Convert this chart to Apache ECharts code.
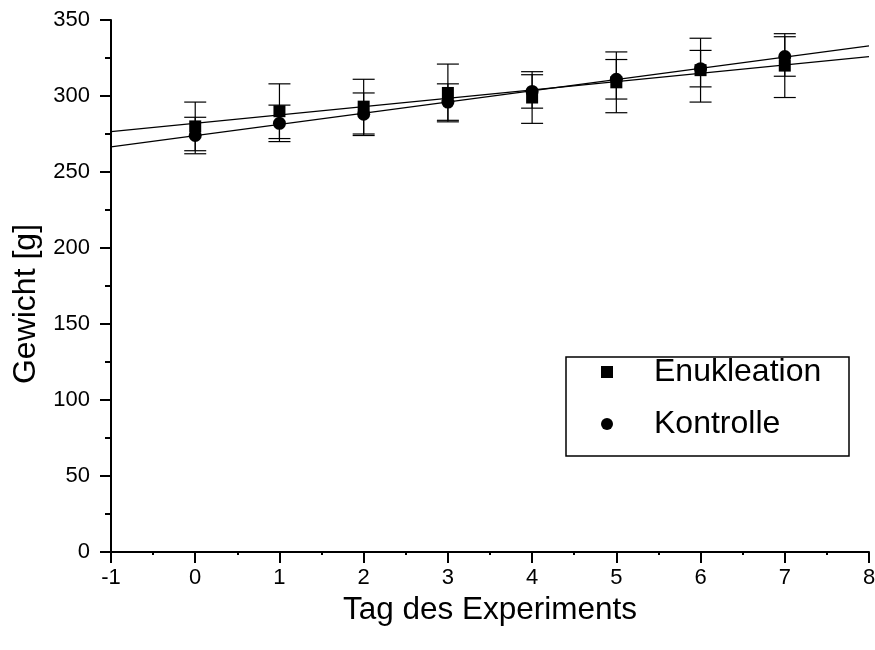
<!DOCTYPE html>
<html>
<head>
<meta charset="utf-8">
<title>Gewicht</title>
<script src="https://cdn.jsdelivr.net/npm/echarts@6/dist/echarts.min.js"></script>
<style>
  html, body { margin: 0; padding: 0; background: #fff; }
  #chart { width: 875px; height: 650px; }
</style>
</head>
<body>
<div id="chart"></div>
<script>
const days = [0, 1, 2, 3, 4, 5, 6, 7]
const enukleation = [280, 290, 293, 302, 299, 309, 317, 320]
const enukleationErr = [16, 18, 18, 19, 17, 20, 21, 21]
const kontrolle = [274, 282, 288, 296, 303, 311, 318, 326]
const kontrolleErr = [12, 12, 14, 12, 11, 13, 12, 13]
const fitRange = [-1, 8]

const font = '"Liberation Sans", Arial, sans-serif'

// lineare Regression
function linFit(xs, ys) {
  const n = xs.length
  const mx = xs.reduce((a, b) => a + b, 0) / n
  const my = ys.reduce((a, b) => a + b, 0) / n
  let sxy = 0, sxx = 0
  for (let i = 0; i < n; i++) {
    sxy += (xs[i] - mx) * (ys[i] - my)
    sxx += (xs[i] - mx) * (xs[i] - mx)
  }
  const b = sxy / sxx
  return fitRange.map(x => [x, my + b * (x - mx)])
}

function errData(vals, errs) {
  return days.map((d, i) => [d, vals[i] - errs[i], vals[i] + errs[i]])
}

function renderErr(params, api) {
  const x = api.value(0)
  const lo = api.coord([x, api.value(1)])
  const hi = api.coord([x, api.value(2)])
  const half = 11
  const style = { stroke: '#000', lineWidth: 1.2 }
  return {
    type: 'group',
    children: [
      { type: 'line', shape: { x1: lo[0], y1: lo[1], x2: hi[0], y2: hi[1] }, style },
      { type: 'line', shape: { x1: lo[0] - half, y1: lo[1], x2: lo[0] + half, y2: lo[1] }, style },
      { type: 'line', shape: { x1: hi[0] - half, y1: hi[1], x2: hi[0] + half, y2: hi[1] }, style }
    ]
  }
}

const chart = echarts.init(document.getElementById('chart'))

chart.setOption({
  animation: false,
  backgroundColor: '#fff',
  grid: { left: 111, right: 6, top: 20, bottom: 98, outerBoundsMode: 'none', containLabel: false },
  xAxis: {
    type: 'value',
    min: -1, max: 8, interval: 1,
    name: 'Tag des Experiments',
    nameLocation: 'middle',
    nameGap: 36,
    nameTextStyle: { fontFamily: font, fontSize: 31.5, color: '#000' },
    axisLine: { show: true, onZero: false, lineStyle: { color: '#000', width: 2 } },
    axisTick: { show: true, inside: false, length: 11, lineStyle: { color: '#000', width: 2 } },
    minorTick: { show: true, splitNumber: 2, length: 3, lineStyle: { color: '#000', width: 2 } },
    axisLabel: { margin: 15, fontFamily: font, fontSize: 22, color: '#000' },
    splitLine: { show: false }
  },
  yAxis: {
    type: 'value',
    min: 0, max: 350, interval: 50,
    name: 'Gewicht [g]',
    nameLocation: 'middle',
    nameGap: 69,
    nameTextStyle: { fontFamily: font, fontSize: 32, color: '#000', padding: [0, 36, 0, 0] },
    axisLine: { show: true, onZero: false, lineStyle: { color: '#000', width: 2 } },
    axisTick: { show: true, inside: false, length: 11, lineStyle: { color: '#000', width: 2 } },
    minorTick: { show: true, splitNumber: 2, length: 6, lineStyle: { color: '#000', width: 2 } },
    axisLabel: { margin: 21, fontFamily: font, fontSize: 22, color: '#000' },
    splitLine: { show: false }
  },
  legend: {
    orient: 'vertical',
    left: 601,
    top: 356,
    padding: 0,
    itemWidth: 12,
    itemHeight: 12,
    itemGap: 20,
    textStyle: { fontFamily: font, fontSize: 32, color: '#000', lineHeight: 32, padding: [0, 0, 0, 36] },
    data: [
      { name: 'Enukleation', icon: 'rect', itemStyle: { color: '#000', opacity: 1 } },
      { name: 'Kontrolle', icon: 'circle', itemStyle: { color: '#000', opacity: 1 } }
    ]
  },
  graphic: [{
    type: 'rect',
    shape: { x: 566, y: 357, width: 283, height: 99 },
    style: { fill: 'none', stroke: '#000', lineWidth: 1.5 },
    z: 10
  }],
  series: [
    {
      name: 'EnukErr', type: 'custom', renderItem: renderErr,
      data: errData(enukleation, enukleationErr), z: 2, silent: true
    },
    {
      name: 'KontrErr', type: 'custom', renderItem: renderErr,
      data: errData(kontrolle, kontrolleErr), z: 2, silent: true
    },
    {
      name: 'EnukFit', type: 'line', data: linFit(days, enukleation),
      symbol: 'none', lineStyle: { color: '#000', width: 1.2 }, z: 3
    },
    {
      name: 'KontrFit', type: 'line', data: linFit(days, kontrolle),
      symbol: 'none', lineStyle: { color: '#000', width: 1.2 }, z: 3
    },
    {
      name: 'Enukleation', type: 'scatter', symbol: 'rect', symbolSize: 12,
      data: days.map((d, i) => [d, enukleation[i]]),
      itemStyle: { color: '#000', opacity: 1 }, z: 4
    },
    {
      name: 'Kontrolle', type: 'scatter', symbol: 'circle', symbolSize: 13,
      data: days.map((d, i) => [d, kontrolle[i]]),
      itemStyle: { color: '#000', opacity: 1 }, z: 4
    }
  ]
})

window.addEventListener('resize', () => chart.resize())
</script>
</body>
</html>
